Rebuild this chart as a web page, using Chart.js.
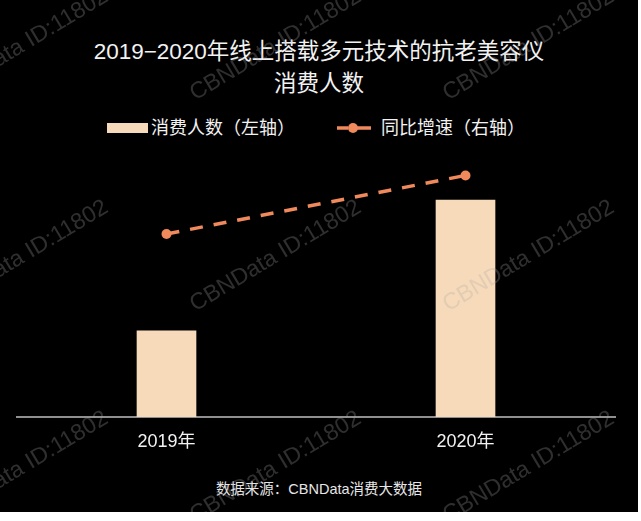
<!DOCTYPE html>
<html>
<head>
<meta charset="utf-8">
<script src="https://cdn.jsdelivr.net/npm/chart.js@4.4.1/dist/chart.umd.min.js"></script>
<style>
  html, body { margin: 0; padding: 0; background: #fff; }
  body { width: 641px; height: 521px; overflow: hidden; }
  #card {
    position: relative; width: 638px; height: 512px; background: #000; overflow: hidden;
    font-family: "Liberation Sans", "Noto Sans CJK SC", sans-serif; color: #f2f2f2;
  }
  #titulo {
    position: absolute; top: 36px; left: 0; width: 100%; text-align: center;
    font-size: 22.5px; line-height: 32px;
  }
  #leyenda {
    position: absolute; top: 116px; left: 107px; height: 24px;
    display: flex; align-items: center; font-size: 18px; line-height: 24px;
  }
  .item { display: flex; align-items: center; }
  .item + .item { margin-left: 42px; }
  .caja { width: 41px; height: 10px; margin-right: 3px; }
  .item svg { margin-right: 10px; }
  #grafica { position: absolute; left: 0; top: 150px; width: 638px; height: 307px; }
  #fuente {
    position: absolute; top: 479px; left: 0; width: 100%; text-align: center;
    font-size: 14.5px; line-height: 20px; color: #e6e6e6;
  }
  #marcas { position: absolute; inset: 0; pointer-events: none; }
  .marca {
    position: absolute; white-space: nowrap; font-size: 23px;
    font-family: "Liberation Sans", sans-serif; color: rgba(170, 170, 170, 0.28);
    transform: translate(-50%, -50%) rotate(-31deg);
  }
</style>
</head>
<body>
<div id="card">
  <div id="titulo">2019−2020年线上搭载多元技术的抗老美容仪<br>消费人数</div>
  <div id="leyenda"></div>
  <div id="grafica"><canvas id="myChart"></canvas></div>
  <div id="fuente">数据来源：CBNData消费大数据</div>
  <div id="marcas"></div>
</div>
<script>
// Datos (escala relativa 0-100)
const years = ["2019年", "2020年"];
const consumidores = [33.5, 84.4];   // 消费人数（左轴）
const crecimiento = [71.2, 94.0];    // 同比增速（右轴）
const etiquetas = ["消费人数（左轴）", "同比增速（右轴）"];

const colorBarra = "#F7DAB9";
const colorLinea = "#F08A5D";

Chart.defaults.font.family = '"Liberation Sans", "Noto Sans CJK SC", sans-serif';

const ctx = document.getElementById("myChart").getContext("2d");
const myChart = new Chart(ctx, {
  data: {
    labels: years,
    datasets: [
      {
        type: "line",
        label: etiquetas[1],
        data: crecimiento,
        yAxisID: "y1",
        borderColor: colorLinea,
        backgroundColor: colorLinea,
        borderWidth: 3.5,
        borderDash: [13, 11],
        pointRadius: 5,
        pointBorderWidth: 0,
        pointBackgroundColor: colorLinea,
        tension: 0,
        order: 0,
      },
      {
        type: "bar",
        label: etiquetas[0],
        data: consumidores,
        yAxisID: "y",
        backgroundColor: colorBarra,
        barThickness: 59,
        order: 1,
      },
    ],
  },
  options: {
    responsive: true,
    maintainAspectRatio: false,
    animation: false,
    layout: { padding: { left: 17, right: 23, top: 10, bottom: 0 } },
    plugins: { legend: { display: false }, tooltip: { enabled: false }, title: { display: false } },
    scales: {
      x: {
        grid: { display: false, drawTicks: false },
        border: { display: true, color: "#8f8f8f", width: 2 },
        ticks: { color: "#f2f2f2", font: { size: 18 }, padding: 14 },
        afterFit: (scale) => { scale.height = 40; },
      },
      y: { display: false, min: 0, max: 100 },
      y1: { display: false, position: "right", min: 0, max: 100 },
    },
  },
});

// Leyenda HTML
const leyenda = document.getElementById("leyenda");
[
  { texto: etiquetas[0], marca: '<div class="caja" style="background:' + colorBarra + '"></div>' },
  {
    texto: etiquetas[1],
    marca:
      '<svg width="34" height="12"><line x1="0" y1="6" x2="11" y2="6" stroke="' + colorLinea +
      '" stroke-width="3.5"/><line x1="18" y1="6" x2="34" y2="6" stroke="' + colorLinea +
      '" stroke-width="3.5"/><circle cx="16" cy="6" r="5" fill="' + colorLinea + '"/></svg>',
  },
].forEach((it) => {
  const div = document.createElement("div");
  div.className = "item";
  div.innerHTML = it.marca + "<span>" + it.texto + "</span>";
  leyenda.appendChild(div);
});

// Marcas de agua
const marcas = document.getElementById("marcas");
for (let fila = 0; fila < 3; fila++) {
  for (let col = 0; col < 3; col++) {
    const m = document.createElement("div");
    m.className = "marca";
    m.textContent = "CBNData ID:11802";
    m.style.left = 22 + col * 253 + "px";
    m.style.top = 44 + fila * 211 + "px";
    marcas.appendChild(m);
  }
}
</script>
</body>
</html>
